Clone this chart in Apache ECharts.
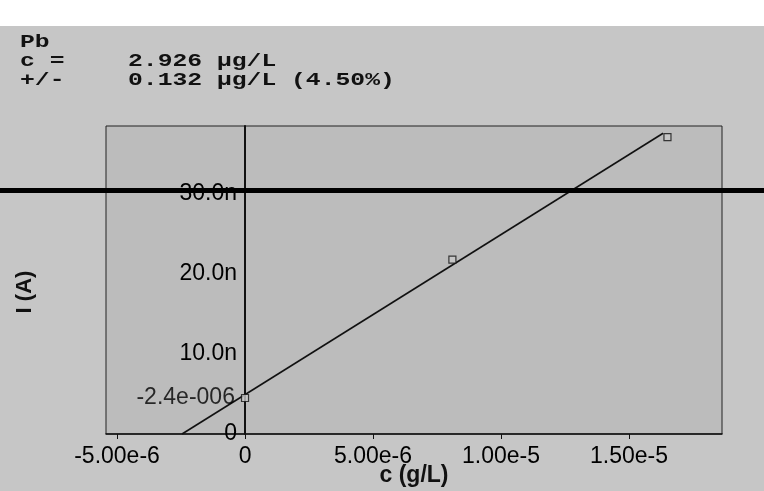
<!DOCTYPE html>
<html>
<head>
<meta charset="utf-8">
<script src="https://cdn.jsdelivr.net/npm/echarts@6/dist/echarts.min.js"></script>
<style>
html,body{margin:0;padding:0;background:#c6c6c6;}
#chart{width:764px;height:491px;}
</style>
</head>
<body>
<div id="chart"></div>
<script>
// Measured points (concentration g/L, current A)
const concentrations = [0, 8.1e-6, 1.65e-5];
const currents = [4.5e-9, 21.8e-9, 37.1e-9];
// Regression line end points
const fitX = [-2.46e-6, 1.633e-5];
const fitY = [0, 37.6e-9];
// Axis ticks
const xTickValues = [-5e-6, 0, 5e-6, 1e-5, 1.5e-5];
const xTickLabels = ['-5.00e-6', '0', '5.00e-6', '1.00e-5', '1.50e-5'];
const yTickValues = [0, 10e-9, 20e-9, 30e-9];
const yTickLabels = ['0', '10.0n', '20.0n', '30.0n'];
const pointLabel = '-2.4e-006';
const headerLines = [['Pb', ''], ['c =', '2.926 µg/L'], ['+/-', '0.132 µg/L (4.50%)']];

const chart = echarts.init(document.getElementById('chart'), null, {renderer: 'canvas'});
const labelFont = {fontFamily: 'Liberation Sans, Arial', fontSize: 23, color: '#000'};

const graphics = [
  {type: 'rect', shape: {x: 0, y: 0, width: 764, height: 26}, style: {fill: '#ffffff'}, z: -10},
  {type: 'rect', shape: {x: 0, y: 188, width: 764, height: 5}, style: {fill: '#000'}, z: 100},
  {type: 'text', x: 25, y: 292, rotation: Math.PI / 2, style: {text: 'I (A)', font: 'bold 22px "Liberation Sans", Arial', fill: '#111', align: 'center', verticalAlign: 'middle'}}
];
headerLines.forEach((ln, i) => {
  const y = 42 + i * 19;
  graphics.push({type: 'text', x: 20, y: y, scaleX: 1.3, style: {text: ln[0], font: 'bold 19px "Liberation Mono", "Courier New", monospace', fill: '#111', verticalAlign: 'middle'}});
  if (ln[1]) graphics.push({type: 'text', x: 128, y: y, scaleX: 1.3, style: {text: ln[1], font: 'bold 19px "Liberation Mono", "Courier New", monospace', fill: '#111', verticalAlign: 'middle'}});
});

chart.setOption({
  backgroundColor: '#c6c6c6',
  animation: false,
  grid: {left: 106, right: 42, top: 126, bottom: 57, outerBoundsMode: 'none', containLabel: false, show: true, backgroundColor: '#bcbcbc', borderColor: '#222', borderWidth: 1},
  xAxis: {
    type: 'value', min: -5.43e-6, max: 1.863e-5,
    name: 'c (g/L)', nameLocation: 'middle', nameGap: 30, nameMoveOverlap: false,
    nameTextStyle: {fontFamily: 'Liberation Sans, Arial', fontSize: 23, fontWeight: 'bold', color: '#111', verticalAlign: 'top'},
    axisLine: {onZero: false, lineStyle: {color: '#111', width: 1.5}},
    axisTick: {show: true, inside: false, length: 5, customValues: xTickValues, lineStyle: {color: '#111'}},
    axisLabel: Object.assign({customValues: xTickValues, margin: 11,
      formatter: v => { const i = xTickValues.findIndex(t => Math.abs(t - v) < 1e-9); return i >= 0 ? xTickLabels[i] : ''; }}, labelFont),
    splitLine: {show: false}
  },
  yAxis: {
    type: 'value', min: 0, max: 38.5e-9, offset: -139,
    axisLine: {onZero: false, lineStyle: {color: '#111', width: 2}},
    axisTick: {show: false},
    axisLabel: Object.assign({customValues: yTickValues, margin: 8,
      formatter: v => { const i = yTickValues.findIndex(t => Math.abs(t - v) < 1e-12); return i >= 0 ? yTickLabels[i] : ''; }}, labelFont),
    splitLine: {show: false}
  },
  series: [
    {
      type: 'line', data: fitX.map((x, i) => [x, fitY[i]]), symbol: 'none',
      lineStyle: {color: '#111', width: 1.6}, z: 3
    },
    {
      type: 'scatter', data: concentrations.map((x, i) => [x, currents[i]]),
      symbol: 'rect', symbolSize: 7,
      itemStyle: {color: '#c8c8c8', borderColor: '#111', borderWidth: 1.2}, z: 4,
      label: {show: true, position: 'left', distance: 6,
        formatter: p => p.dataIndex === 0 ? pointLabel : '',
        fontFamily: 'Liberation Sans, Arial', fontSize: 23, color: '#000'}
    }
  ],
  graphic: graphics
});
</script>
</body>
</html>
